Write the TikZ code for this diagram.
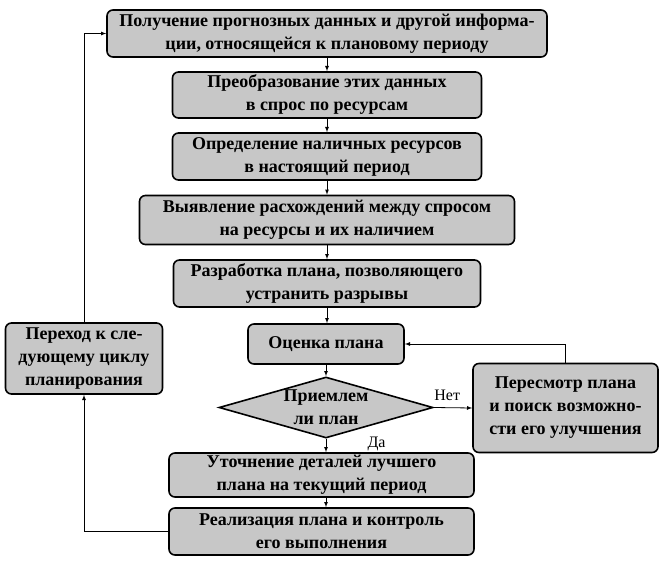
\documentclass[tikz,border=0pt]{standalone}
\usepackage{fontspec}
\setmainfont{Liberation Serif}
\usetikzlibrary{shapes,arrows}
\usetikzlibrary{calc}

\definecolor{fon}{gray}{0.78}

\tikzset{
	blok/.style={draw, line width=1.6pt, rounded corners=6pt, fill=fon,
		align=center, inner sep=0pt, font=\fontsize{18}{23}\selectfont\bfseries},
	romb/.style={draw, line width=1.6pt, diamond, fill=fon, inner sep=0pt,
		minimum width=214pt, minimum height=61pt},
	strel/.style={-latex, line width=0.8pt},
	metka/.style={font=\fontsize{16}{20}\selectfont}
}

\begin{document}
\begin{tikzpicture}[x=1pt, y=-1pt]
	\useasboundingbox (0,0) rectangle (664,567);
	\def\xc{327} % center of the column
	
	% main column
	\node[blok, minimum width=440pt, minimum height=47pt] (B1) at (\xc, 33.5)
	{Получение прогнозных данных и другой информа-\\ции, относящейся к плановому периоду};
	\node[blok, minimum width=309pt, minimum height=46pt] (B2) at (\xc, 95)
	{Преобразование этих данных\\в спрос по ресурсам};
	\node[blok, minimum width=309pt, minimum height=47pt] (B3) at (\xc, 156.5)
	{Определение наличных ресурсов\\в настоящий период};
	\node[blok, minimum width=375pt, minimum height=49pt] (B4) at (\xc, 220)
	{Выявление расхождений между спросом\\на ресурсы и их наличием};
	\node[blok, minimum width=307pt, minimum height=47pt] (B5) at (\xc, 283.5)
	{Разработка плана, позволяющего\\устранить разрывы};
	\node[blok, minimum width=156pt, minimum height=40pt] (B6) at (326, 344)
	{Оценка плана};
	
	% decision
	\node[romb] (R) at (326, 407.5) {};
	\node[blok, draw=none, fill=none] (Rt) at (R) {Приемлем\\ли план};
	
	\node[blok, minimum width=305pt, minimum height=44pt] (B8) at (321.5, 475)
	{Уточнение деталей лучшего\\плана на текущий период};
	\node[blok, minimum width=305pt, minimum height=47pt] (B9) at (321.5, 531.5)
	{Реализация плана и контроль\\его выполнения};
	
	% side boxes
	\node[blok, minimum width=185pt, minimum height=89pt] (B7) at (565.5, 408)
	{Пересмотр плана\\и поиск возможно-\\сти его улучшения};
	\node[blok, minimum width=157pt, minimum height=71pt] (B10) at (84, 358.5)
	{Переход к сле-\\дующему циклу\\планирования};
	
	% arrows down the column
	\draw[strel] (B1.south) -- (B2.north);
	\draw[strel] (B2.south) -- (B3.north);
	\draw[strel] (B3.south) -- (B4.north);
	\draw[strel] (B4.south) -- (B5.north);
	\draw[strel] (B5.south) -- (B5.south |- B6.north);
	\draw[strel] (B6.south) -- (R.north);
	\draw[strel] (R.south) -- (R.south |- B8.north);
	\draw[strel] (R.south |- B8.south) -- (R.south |- B9.north);
	
	% no / yes
	\draw[strel] (R.east) -- node[metka, above=3pt, pos=0.35] (net) {Нет} (B7.west);
	\node[metka, anchor=west] (da) at ($(R.south)+(38,5)$) {Да};
	\draw[strel] (B7.north) |- (B6.east);
	
	% back loop
	\draw[strel] (B9.west) -| (B10.south);
	\draw[strel] (B10.north) |- (B1.west);
\end{tikzpicture}
\end{document}
